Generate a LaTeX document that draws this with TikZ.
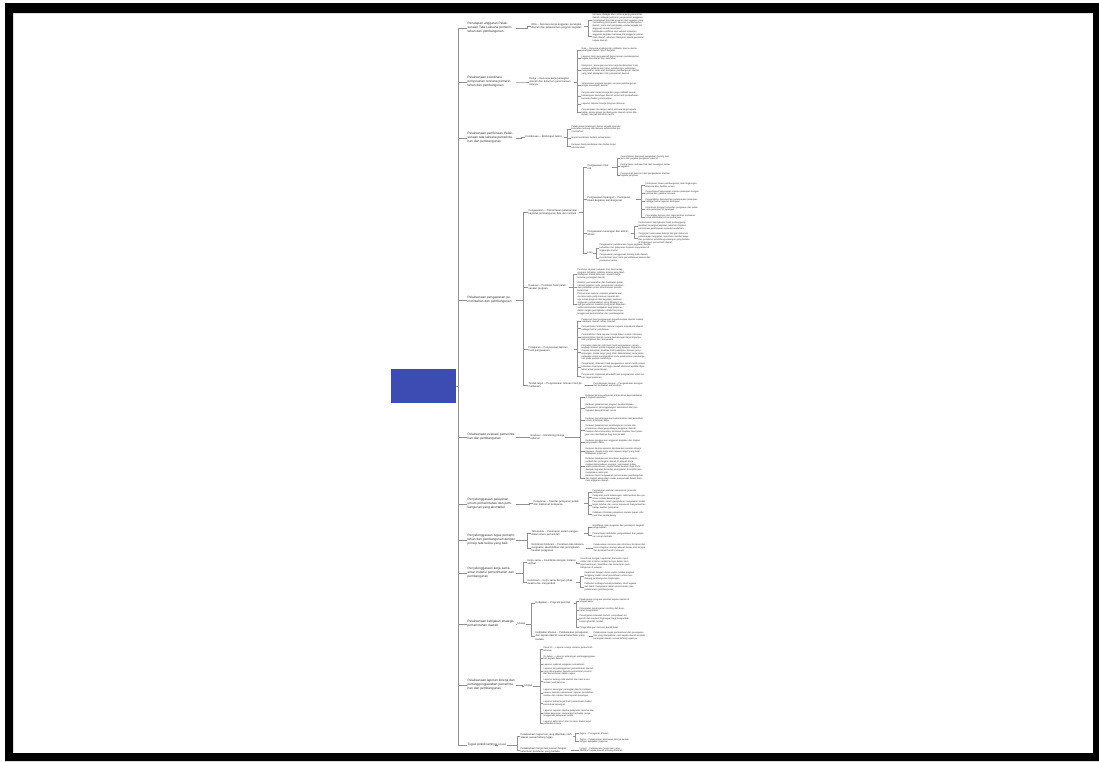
\documentclass[tikz,border=0pt]{standalone}
\usepackage{fontspec}
\setmainfont{Liberation Sans}
\definecolor{rootblue}{RGB}{60,76,178}
\definecolor{txt}{RGB}{50,50,50}
\definecolor{linec}{RGB}{145,145,145}
\tikzset{
  base/.style={anchor=west, align=left, inner sep=0.4pt, text=txt},
  l1/.style={base, text width=#1, font=\fontsize{3.2}{4}\selectfont},
  l2/.style={base, text width=#1, font=\fontsize{2.6}{3.1}\selectfont},
  l3/.style={base, text width=#1, font=\fontsize{2.3}{2.75}\selectfont},
  tag/.style={base, font=\fontsize{2.6}{3.1}\selectfont},
  link/.style={draw=linec, line width=0.45pt},
  rootbox/.style={fill=rootblue, draw=none, minimum width=65pt, minimum height=34pt, inner sep=0pt}
}
% elbow connector: parent east -> bracket (gap left of child) -> child west
\newcommand\mmlink[3][4pt]{\draw[link] (#2.east) -| ([xshift=-#1]#3.west) -- (#3.west);}

\begin{document}
\begin{tikzpicture}[x=1pt,y=-1pt]
\useasboundingbox (0,0) rectangle (1099,761);
\fill[white] (0,0) rectangle (1099,761);

% central topic
\node[rootbox] (root) at (423.5,386) {};

% ---------- first level ----------
\node[l1=48pt] (n1) at (467,28) {Penetapan anggaran Pelaksanaan Tata Laksana pemerintahan dan pembangunan};
\node[l1=48pt] (n2) at (467,82) {Pelaksanaan koordinasi penyusunan rencana pemerintahan dan pembangunan};
\node[l1=48pt] (n3) at (467,138) {Pelaksanaan pembinaan Pelaksanaan tata laksana pemerintahan dan pembangunan};
\node[l1=48pt] (n4) at (467,300) {Pelaksanaan pengawasan pemerintahan dan pembangunan};
\node[l1=48pt] (n5) at (467,437) {Pelaksanaan evaluasi pemerintahan dan pembangunan};
\node[l1=48pt] (n6) at (467,504) {Penyelenggaraan pelayanan umum pemerintahan dan pembangunan yang akuntabel};
\node[l1=48pt] (n7) at (467,540) {Penyelenggaraan tugas pemerintahan dan pembangunan dengan prinsip tata kelola yang baik};
\node[l1=48pt] (n8) at (467,573) {Penyelenggaraan kerja sama antar instansi pemerintahan dan pembangunan};
\node[l1=48pt] (n9) at (467,624) {Pelaksanaan kebijakan strategis pemerintahan daerah};
\node[l1=48pt] (n10) at (467,685) {Pelaksanaan laporan kinerja dan pertanggungjawaban pemerintahan dan pembangunan};
\node[base, font=\fontsize{3.2}{4}\selectfont] (n11) at (467,745) {Tugas pokok lainnya};

\foreach \k in {n1,n2,n3,n4,n5,n6,n7,n8,n9,n10,n11}{\mmlink[9pt]{root}{\k}}

% ---------- 1 ----------
\node[l2=52pt] (a1) at (531,26) {RKA – Rencana kerja anggaran perangkat daerah dan pelaksanaan program kegiatan};
\node[l3=52pt] (c11) at (592,20.5) {Menyusun rencana kerja tahunan berdasarkan rencana strategis dan rencana kerja pemerintah daerah sebagai pedoman penyusunan anggaran, menetapkan prioritas program dan kegiatan yang mendukung pencapaian sasaran pembangunan daerah, serta menyampaikan usulan kepada tim anggaran sesuai ketentuan};
\node[l3=52pt] (c12) at (592,36.5) {Melakukan verifikasi dan validasi dokumen anggaran kegiatan bersama tim anggaran pemerintah daerah sebelum ditetapkan dalam peraturan kepala daerah};
\mmlink{n1}{a1}
\mmlink{a1}{c11}\mmlink{a1}{c12}

% ---------- 2 ----------
\node[l2=44pt] (a2) at (529,82) {Renja – Rencana kerja perangkat daerah dan dokumen perencanaan lainnya};
\node[l3=58pt] (i1) at (581,50) {Data – Rencana strategis dan indikator kinerja utama perangkat daerah tahun berjalan};
\node[l3=58pt] (i2) at (581,58) {Laporan hasil musyawarah perencanaan pembangunan tingkat kecamatan dan kelurahan};
\node[l3=58pt] (i3) at (581,70) {Menyusun rancangan rencana kerja berdasarkan hasil evaluasi pelaksanaan tahun sebelumnya, kebutuhan masyarakat, serta arah kebijakan pembangunan daerah yang telah ditetapkan oleh pemerintah daerah};
\node[l3=58pt] (i4) at (581,85) {Sinkronisasi program dengan rencana pembangunan jangka menengah daerah};
\node[l3=58pt] (i5) at (581,96) {Penyesuaian target kinerja dan pagu indikatif sesuai kemampuan keuangan daerah serta hasil pembahasan bersama badan perencanaan};
\node[l3=58pt] (i6) at (581,104) {Laporan capaian kinerja program tahunan};
\node[l3=58pt] (i7) at (581,112.5) {Penyampaian rancangan akhir rencana kerja kepada badan perencanaan pembangunan daerah untuk ditetapkan menjadi dokumen resmi};
\mmlink{n2}{a2}
\foreach \k in {i1,i2,i3,i4,i5,i6,i7}{\mmlink{a2}{\k}}

% ---------- 3 ----------
\node[l2=38pt] (a3) at (525,137) {Pembinaan – Bimbingan teknis};
\node[l3=50pt] (j1) at (571,129) {Pelaksanaan bimbingan teknis kepada aparatur kelurahan tentang tata laksana administrasi pemerintahan};
\node[l3=50pt] (j2) at (571,138) {Rapat koordinasi berkala setiap bulan};
\node[l3=50pt] (j3) at (571,146) {Evaluasi hasil pembinaan dan tindak lanjut rekomendasi};
\mmlink{n3}{a3}
\foreach \k in {j1,j2,j3}{\mmlink{a3}{\k}}

% ---------- 4 ----------
\node[l2=50pt] (b1) at (528,212) {Pengawasan – Pemantauan pelaksanaan kegiatan pembangunan fisik dan nonfisik};
\node[l2=24pt] (d1) at (587,167) {Pengawasan internal};
\node[l3=52pt] (e1) at (620,158) {Pemeriksaan dokumen pengadaan barang dan jasa oleh pejabat pengawas internal};
\node[l3=52pt] (e2) at (620,166) {Pemantauan realisasi fisik dan keuangan setiap kegiatan};
\node[l3=52pt] (e3) at (620,175) {Penyusunan laporan hasil pengawasan triwulan kepada pimpinan};
\node[l2=48pt] (d2) at (587,199) {Pengawasan lapangan – Peninjauan lokasi kegiatan pembangunan};
\node[l3=54pt] (f1) at (645,185) {Peninjauan lokasi pembangunan jalan lingkungan, drainase dan fasilitas umum};
\node[l3=54pt] (f2) at (645,193) {Pemeriksaan kesesuaian volume pekerjaan dengan kontrak dan gambar rencana};
\node[l3=54pt] (f3) at (645,201) {Pengambilan dokumentasi pelaksanaan pekerjaan sebagai bahan laporan kemajuan};
\node[l3=54pt] (f4) at (645,209) {Koordinasi dengan konsultan pengawas dan pelaksana pekerjaan di lapangan};
\node[l3=54pt] (f5) at (645,217) {Pencatatan temuan dan rekomendasi perbaikan untuk ditindaklanjuti penyedia jasa};
\node[l2=43pt] (d3) at (587,233) {Pengawasan keuangan dan administrasi};
\node[l3=52pt] (g1) at (638,226) {Pemeriksaan kelengkapan bukti pertanggungjawaban keuangan kegiatan sebelum diajukan permintaan pembayaran kepada bendahara};
\node[l3=52pt] (g2) at (638,238.5) {Pengujian kesesuaian belanja dengan dokumen pelaksanaan anggaran, ketentuan standar biaya dan peraturan perundang-undangan yang berlaku di lingkungan pemerintah daerah};
\node[tag] (d4) at (587,253) {Lain};
\node[l3=52pt] (h1) at (599,248) {Pengawasan pelaksanaan tugas pegawai, disiplin kehadiran dan pelayanan kepada masyarakat di lingkungan kantor};
\node[l3=52pt] (h2) at (599,258) {Pengawasan penggunaan barang milik daerah, inventarisasi aset serta pemeliharaan sarana dan prasarana kantor};

\node[l2=40pt] (b2) at (528,287) {Evaluasi – Penilaian hasil pelaksanaan program};
\node[l3=48pt] (k1) at (577,274) {Penilaian capaian keluaran dan hasil setiap program terhadap indikator kinerja yang telah ditetapkan dalam dokumen rencana kerja tahunan perangkat daerah};
\node[l3=48pt] (k2) at (577,287) {Analisis permasalahan dan hambatan pelaksanaan kegiatan serta penyusunan rekomendasi perbaikan untuk perencanaan periode berikutnya};
\node[l3=48pt] (k3) at (577,304) {Penyusunan laporan evaluasi pelaksanaan rencana kerja yang memuat capaian kinerja setiap program dan kegiatan, realisasi anggaran, permasalahan yang dihadapi, upaya pemecahan masalah yang telah dilakukan serta rekomendasi kebijakan bagi pimpinan dalam rangka peningkatan efektivitas penyelenggaraan pemerintahan dan pembangunan};

\node[l2=45pt] (b3) at (528,349) {Pelaporan – Penyusunan laporan hasil pengawasan};
\node[l3=64pt] (m1) at (581,321) {Pelaporan hasil pengawasan kepada kepala daerah melalui sekretaris daerah setiap triwulan};
\node[l3=64pt] (m2) at (581,328.5) {Penyampaian tembusan laporan kepada inspektorat daerah sebagai bahan pembinaan};
\node[l3=64pt] (m3) at (581,337.5) {Pemutakhiran data capaian kinerja dalam sistem informasi pemerintahan daerah secara berkala agar dapat dipantau oleh pimpinan dan masyarakat};
\node[l3=64pt] (m4) at (581,352.5) {Penyajian data dan informasi hasil pengawasan secara lengkap meliputi jumlah kegiatan yang diawasi, tingkat kemajuan pekerjaan, kualitas hasil pekerjaan, temuan penyimpangan, tindak lanjut yang telah dilaksanakan serta saran perbaikan untuk meningkatkan mutu pelaksanaan pembangunan pada periode berikutnya};
\node[l3=64pt] (m5) at (581,367) {Pengarsipan dokumen hasil pengawasan secara tertib sesuai ketentuan kearsipan sehingga mudah ditelusuri apabila diperlukan untuk pemeriksaan};
\node[l3=64pt] (m6) at (581,376.5) {Penyusunan ringkasan eksekutif hasil pengawasan untuk bahan rapat pimpinan};

\node[l2=56pt] (b4) at (528,385.5) {Tindak lanjut – Penyelesaian temuan hasil pemeriksaan};
\node[l3=52pt] (o1) at (593,385) {Penyelesaian temuan – Pengembalian kerugian dan perbaikan administrasi};

\foreach \k in {b1,b2,b3,b4}{\mmlink[5pt]{n4}{\k}}
\foreach \k in {d1,d2,d3,d4}{\mmlink{b1}{\k}}
\foreach \k in {e1,e2,e3}{\mmlink[3pt]{d1}{\k}}
\foreach \k in {f1,f2,f3,f4,f5}{\mmlink{d2}{\k}}
\foreach \k in {g1,g2}{\mmlink{d3}{\k}}
\foreach \k in {h1,h2}{\mmlink[3pt]{d4}{\k}}
\foreach \k in {k1,k2,k3}{\mmlink{b2}{\k}}
\foreach \k in {m1,m2,m3,m4,m5,m6}{\mmlink{b3}{\k}}
\mmlink{b4}{o1}

% ---------- 5 ----------
\node[l2=34pt] (a5) at (530,437) {Evaluasi – Monitoring kinerja tahunan};
\node[l3=58pt] (p1) at (585,397) {Evaluasi kinerja pelayanan administrasi kependudukan di tingkat kelurahan};
\node[l3=58pt] (p2) at (585,408) {Evaluasi pelaksanaan program pemberdayaan masyarakat, penanggulangan kemiskinan dan peningkatan kesejahteraan sosial};
\node[l3=58pt] (p3) at (585,420) {Evaluasi penyelenggaraan ketenteraman dan ketertiban umum di wilayah kerja};
\node[l3=58pt] (p4) at (585,430.5) {Evaluasi pelaksanaan pembangunan sarana dan prasarana umum yang dibiayai anggaran daerah maupun dana kelurahan, termasuk kualitas hasil pekerjaan dan manfaatnya bagi masyarakat};
\node[l3=58pt] (p5) at (585,442) {Evaluasi penggunaan anggaran kegiatan dan tingkat penyerapan dana};
\node[l3=58pt] (p6) at (585,451.5) {Evaluasi kinerja aparatur berdasarkan sasaran kinerja pegawai, disiplin kerja dan capaian target yang telah ditetapkan pimpinan};
\node[l3=58pt] (p7) at (585,466) {Evaluasi pelaksanaan koordinasi kegiatan instansi vertikal dan perangkat daerah di wilayah kerja, meliputi keterpaduan program, kesesuaian lokasi, waktu pelaksanaan, pemanfaatan sumber daya serta dampak kegiatan terhadap peningkatan kesejahteraan masyarakat setempat};
\node[l3=58pt] (p8) at (585,478.5) {Evaluasi hasil musyawarah perencanaan pembangunan dan tingkat akomodasi usulan masyarakat dalam dokumen anggaran daerah};
\mmlink{n5}{a5}
\foreach \k in {p1,p2,p3,p4,p5,p6,p7,p8}{\mmlink[5pt]{a5}{\k}}

% ---------- 6 ----------
\node[l2=50pt] (a6) at (533,503) {Pelayanan – Standar pelayanan publik dan maklumat pelayanan};
\node[l3=54pt] (q1) at (592,492) {Penyusunan standar operasional prosedur pelayanan};
\node[l3=54pt] (q2) at (592,497.5) {Pelayanan surat keterangan, rekomendasi dan perizinan sesuai kewenangan};
\node[l3=54pt] (q3) at (592,505) {Penyediaan sarana pengaduan masyarakat, tindak lanjut keluhan dan survei kepuasan masyarakat terhadap kualitas pelayanan};
\node[l3=54pt] (q4) at (592,514.5) {Publikasi informasi pelayanan melalui papan informasi dan media daring};
\mmlink{n6}{a6}
\foreach \k in {q1,q2,q3,q4}{\mmlink{a6}{\k}}

% ---------- 7 ----------
\node[l2=52pt] (a7a) at (531,533) {Tata kelola – Penerapan sistem pengendalian intern pemerintah};
\node[l3=52pt] (r1) at (592,527) {Identifikasi risiko kegiatan dan penetapan langkah pengendalian};
\node[l3=52pt] (r2) at (592,535.5) {Pemantauan efektivitas pengendalian dan pelaporan secara berkala};
\node[l2=54pt] (a7b) at (531,548) {Reformasi birokrasi – Penataan tata laksana, penguatan akuntabilitas dan peningkatan kualitas pelayanan};
\node[l3=52pt] (r3) at (593,548) {Pelaksanaan rencana aksi reformasi birokrasi dan zona integritas menuju wilayah bebas dari korupsi dan birokrasi bersih melayani};
\mmlink{n7}{a7a}\mmlink{n7}{a7b}
\mmlink{a7a}{r1}\mmlink{a7a}{r2}\mmlink{a7b}{r3}

% ---------- 8 ----------
\node[l2=48pt] (a8a) at (527,562) {Kerja sama – Koordinasi dengan instansi vertikal};
\node[l3=50pt] (s1) at (580,563.5) {Koordinasi dengan kepolisian, komando rayon militer dan instansi vertikal lainnya dalam menjaga keamanan, ketertiban dan kelancaran pembangunan di wilayah};
\node[l2=48pt] (a8b) at (527,582) {Kemitraan – Kerja sama dengan pihak swasta dan masyarakat};
\node[l3=52pt] (s2) at (584,576) {Kemitraan dengan dunia usaha melalui program tanggung jawab sosial perusahaan untuk mendukung pembangunan lingkungan};
\node[l3=52pt] (s3) at (584,587) {Pelibatan lembaga kemasyarakatan, tokoh agama dan tokoh masyarakat dalam perencanaan dan pelaksanaan pembangunan};
\mmlink{n8}{a8a}\mmlink{n8}{a8b}
\mmlink{a8a}{s1}\mmlink{a8b}{s2}\mmlink{a8b}{s3}

% ---------- 9 ----------
\node[tag] (u9) at (517,624) {Uraian};
\node[l2=38pt] (a9a) at (535,603) {Kebijakan – Program prioritas};
\node[l3=50pt] (t1) at (579,601) {Pelaksanaan program prioritas kepala daerah di wilayah kerja};
\node[l3=50pt] (t2) at (579,610) {Percepatan penanganan stunting dan kesehatan masyarakat};
\node[l3=50pt] (t3) at (579,619) {Penanganan kawasan kumuh, penyediaan air bersih dan sanitasi lingkungan bagi masyarakat berpenghasilan rendah};
\node[l3=50pt] (t4) at (579,627.5) {Pengembangan ekonomi kreatif lokal};
\node[l2=54pt] (a9b) at (535,636) {Kebijakan khusus – Pelaksanaan penugasan dari kepala daerah sesuai ketentuan yang berlaku};
\node[l3=54pt] (t5) at (593,636) {Pelaksanaan tugas pembantuan dan penugasan lain yang dilimpahkan oleh kepala daerah kepada perangkat daerah sesuai bidang tugasnya};
\mmlink[1pt]{n9}{u9}
\mmlink{u9}{a9a}\mmlink{u9}{a9b}
\foreach \k in {t1,t2,t3,t4}{\mmlink[3pt]{a9a}{\k}}
\mmlink{a9b}{t5}

% ---------- 10 ----------
\node[tag] (u10) at (524,686) {Uraian};
\node[l3=52pt] (v1) at (543,649) {Pasal 21 – Laporan kinerja instansi pemerintah tahunan};
\node[l3=52pt] (v2) at (543,658) {Di dalam – Laporan keterangan pertanggungjawaban kepala daerah};
\node[l3=52pt] (v3) at (543,664.5) {Laporan realisasi anggaran semesteran};
\node[l3=52pt] (v4) at (543,671.5) {Laporan penyelenggaraan pemerintahan daerah yang disampaikan kepada pemerintah provinsi dan kementerian dalam negeri};
\node[l3=52pt] (v5) at (543,681) {Laporan barang milik daerah dan hasil inventarisasi aset tahunan};
\node[l3=52pt] (v6) at (543,693) {Laporan keuangan perangkat daerah meliputi neraca, laporan operasional, laporan perubahan ekuitas dan catatan atas laporan keuangan};
\node[l3=52pt] (v7) at (543,703.5) {Laporan tindak lanjut hasil pemeriksaan badan pemeriksa keuangan};
\node[l3=52pt] (v8) at (543,713.5) {Laporan capaian standar pelayanan minimal dan indeks kepuasan masyarakat terhadap penyelenggaraan pelayanan publik};
\node[l3=52pt] (v9) at (543,723) {Laporan akhir tahun dan rencana tindak lanjut perbaikan kinerja};
\mmlink[2pt]{n10}{u10}
\foreach \k in {v1,v2,v3,v4,v5,v6,v7,v8,v9}{\mmlink[3pt]{u10}{\k}}

% ---------- 11 ----------
\node[tag] (u11) at (498,745) {Uraian};
\node[l2=52pt] (a11a) at (520,736.5) {Pelaksanaan tugas lain yang diberikan oleh atasan sesuai bidang tugas};
\node[l3=50pt] (w1) at (579,733.5) {Tugas – Penugasan khusus};
\node[l3=50pt] (w2) at (579,741) {Tugas – Pelaksanaan kedinasan lainnya sesuai dengan kebijakan pimpinan};
\node[l2=50pt] (a11b) at (520,750) {Pelaksanaan fungsi lain sesuai dengan ketentuan peraturan yang berlaku};
\node[l3=50pt] (w3) at (579,750) {Fungsi – Pelaksanaan fungsi lain yang diberikan kepala daerah sesuai peraturan};
\mmlink[3pt]{n11}{u11}
\mmlink[3pt]{u11}{a11a}\mmlink[3pt]{u11}{a11b}
\mmlink{a11a}{w1}\mmlink{a11a}{w2}\mmlink{a11b}{w3}

% black frame around the sheet
\fill[black, even odd rule] (5,3) rectangle (1099,761) (13,13) rectangle (1093,753);
\end{tikzpicture}
\end{document}
